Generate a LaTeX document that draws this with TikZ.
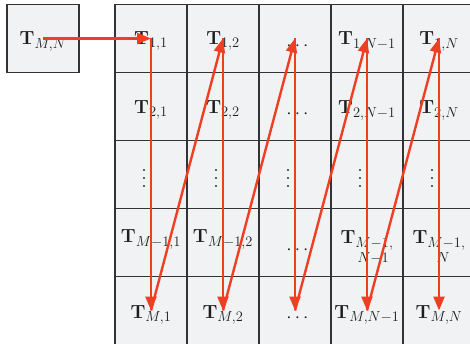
\RequirePackage{fix-cm}
\documentclass[tikz,border=0pt]{standalone}
\usepackage{amsmath}
\usetikzlibrary{arrows.meta}
\DeclareMathSizes{19}{19}{14.5}{11}
\definecolor{cellfill}{RGB}{241,242,244}
\definecolor{gridline}{RGB}{51,51,51}
\definecolor{arrowred}{RGB}{240,62,35}
\definecolor{txt}{RGB}{30,30,30}
% text placed with its baseline #1 below the cell centre
\newcommand{\at}[2]{\raisebox{-#1}[0pt][0pt]{#2}}
\newcommand{\mydots}{\raisebox{-11.75pt}[0pt][0pt]{\hspace*{8pt}$\cdots$}}
\newcommand{\myvdots}{\raisebox{-12.8pt}[0pt][0pt]{\vbox{\baselineskip=8pt\lineskiplimit=-20pt
  \hbox{\fontsize{24}{24}\selectfont .}\hbox{\fontsize{24}{24}\selectfont .}\hbox{\fontsize{24}{24}\selectfont .}}}\hspace*{14pt}}
\begin{document}
\begin{tikzpicture}[x=1pt,y=-1pt,
  cell/.style={draw=gridline,fill=cellfill,line width=1.3pt,minimum width=72pt,minimum height=68pt,inner sep=0pt,font=\fontsize{19}{22}\selectfont,text=txt},
  flow/.style={draw=arrowred,line width=2.4pt,-{Triangle[length=14pt,width=11pt]}}]
\clip (0,0) rectangle (470,344);
\fill[white] (0,0) rectangle (470,344);
% source tile
\node[cell] (box) at (43,38.5) {\at{6.5pt}{$\mathbf{T}_{M,N}$}};
% row 1
\node[cell] (c-1-1) at (151,38.5) {\at{6.5pt}{$\mathbf{T}_{1,1}$}};
\node[cell] (c-1-2) at (223,38.5) {\at{6.5pt}{$\mathbf{T}_{1,2}$}};
\node[cell] (c-1-3) at (295,38.5) {\mydots};
\node[cell] (c-1-4) at (367,38.5) {\at{6.5pt}{$\mathbf{T}_{1,N-1}$}};
\node[cell] (c-1-5) at (439,38.5) {\at{6.5pt}{$\mathbf{T}_{1,N}$}};
% row 2
\node[cell] (c-2-1) at (151,106.5) {\at{7.5pt}{$\mathbf{T}_{2,1}$}};
\node[cell] (c-2-2) at (223,106.5) {\at{7.5pt}{$\mathbf{T}_{2,2}$}};
\node[cell] (c-2-3) at (295,106.5) {\mydots};
\node[cell] (c-2-4) at (367,106.5) {\at{7.5pt}{$\mathbf{T}_{2,N-1}$}};
\node[cell] (c-2-5) at (439,106.5) {\at{7.5pt}{$\mathbf{T}_{2,N}$}};
% row 3
\node[cell] (c-3-1) at (151,174.5) {\myvdots};
\node[cell] (c-3-2) at (223,174.5) {\myvdots};
\node[cell] (c-3-3) at (295,174.5) {\myvdots};
\node[cell] (c-3-4) at (367,174.5) {\myvdots};
\node[cell] (c-3-5) at (439,174.5) {\myvdots};
% row 4
\node[cell] (c-4-1) at (151,242.5) {\at{0.5pt}{$\mathbf{T}_{M-1,1}$}};
\node[cell] (c-4-2) at (223,242.5) {\at{0.5pt}{$\mathbf{T}_{M-1,2}$}};
\node[cell] (c-4-3) at (295,242.5) {\mydots};
\node[cell] (c-4-4) at (367,242.5) {\at{1.5pt}{\rlap{\raisebox{-19pt}{\hspace*{17pt}$\scriptstyle N-1$}}$\mathbf{T}_{M-1,}$}};
\node[cell] (c-4-5) at (439,242.5) {\at{1.5pt}{\rlap{\raisebox{-19pt}{\hspace*{24pt}$\scriptstyle N$}}$\mathbf{T}_{M-1,}$}};
% row 5
\node[cell] (c-5-1) at (151,310.5) {\at{8pt}{$\mathbf{T}_{M,1}$}};
\node[cell] (c-5-2) at (223,310.5) {\at{8pt}{$\mathbf{T}_{M,2}$}};
\node[cell] (c-5-3) at (295,310.5) {\mydots};
\node[cell] (c-5-4) at (367,310.5) {\at{8pt}{$\mathbf{T}_{M,N-1}$}};
\node[cell] (c-5-5) at (439,310.5) {\at{8pt}{$\mathbf{T}_{M,N}$}};
% traversal arrows
\draw[flow] (box.center) -- (c-1-1.center);
\foreach \c in {1,...,5} {
  \draw[flow] (c-1-\c.center) -- (c-5-\c.center);
}
\foreach \c/\d in {1/2,2/3,3/4,4/5} {
  \draw[flow] (c-5-\c.center) -- (c-1-\d.center);
}
\end{tikzpicture}
\end{document}
